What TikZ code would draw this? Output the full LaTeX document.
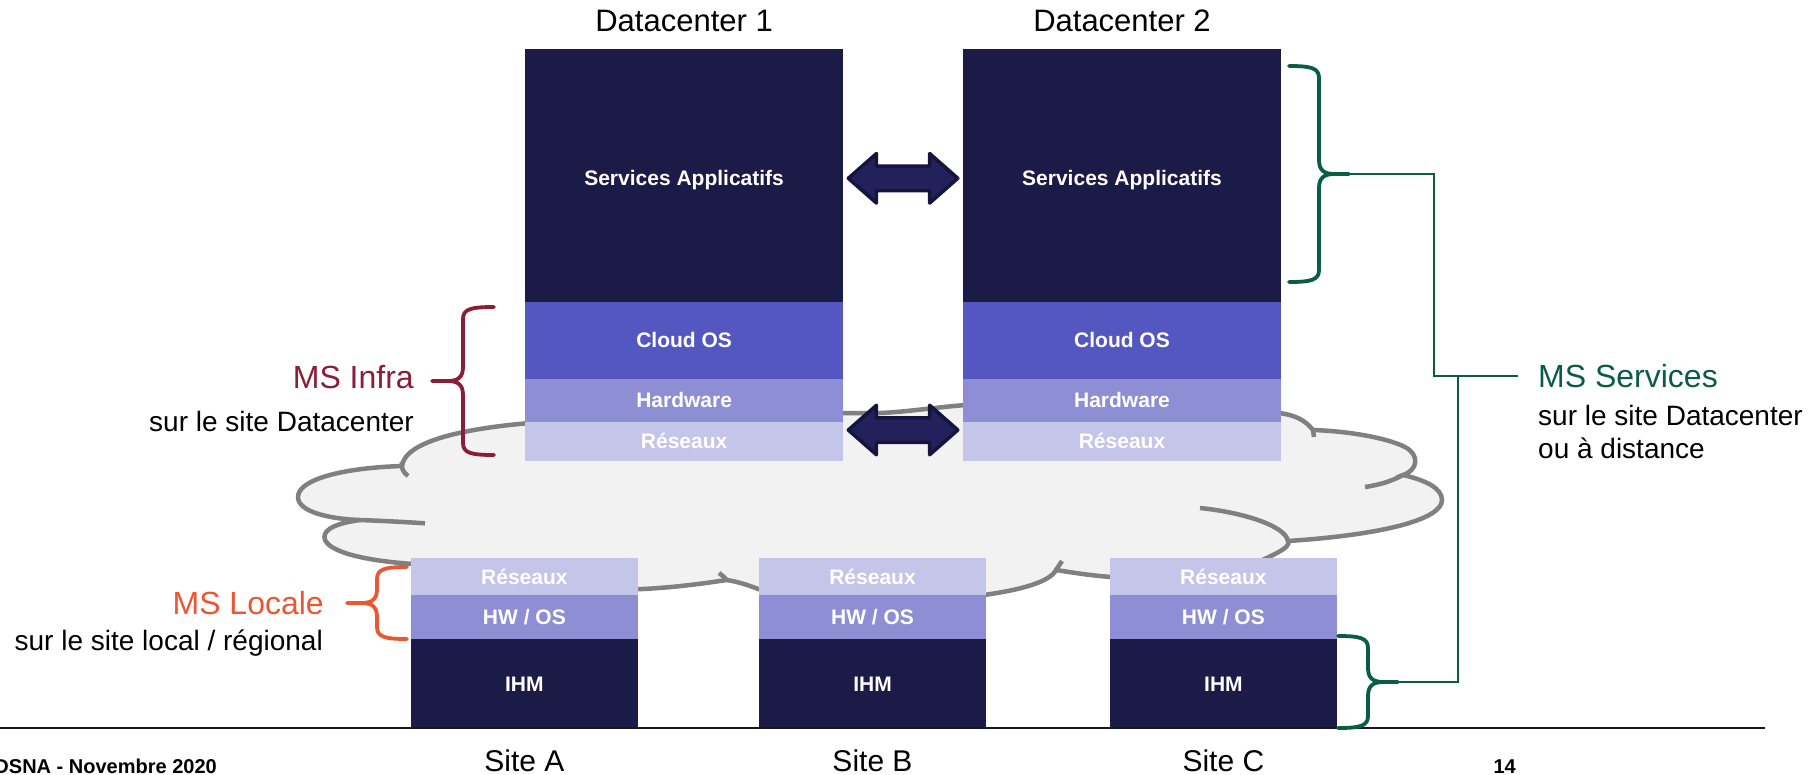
\documentclass[tikz,border=0pt]{standalone}
\usepackage{fontspec}
\setmainfont{Liberation Sans}
\usetikzlibrary{calc}
\definecolor{navy}{HTML}{1C1A46}
\definecolor{cloudos}{HTML}{5557C1}
\definecolor{hwcol}{HTML}{8D8ED4}
\definecolor{rescol}{HTML}{C5C5E9}
\definecolor{arrfill}{HTML}{23215C}
\definecolor{arredge}{HTML}{15143D}
\definecolor{cloudfill}{HTML}{F2F2F2}
\definecolor{cloudline}{HTML}{808080}
\definecolor{bur}{HTML}{8C1D36}
\definecolor{orng}{HTML}{EB5633}
\definecolor{grn}{HTML}{0A5C44}
\newcommand\BraceDraw[8]{%
\draw[#1] (#3,#6) .. controls ({#4+8*(#2)},#6) and (#4,{#6+2}) .. (#4,{#6+12}) -- (#4,{#8-14}) .. controls (#4,{#8-4}) and ({#4-5*(#2)},#8) .. ({#4-15*(#2)},#8) -- (#5,#8)
 (#3,#7) .. controls ({#4+8*(#2)},#7) and (#4,{#7-2}) .. (#4,{#7-12}) -- (#4,{#8+14}) .. controls (#4,{#8+4}) and ({#4-5*(#2)},#8) .. ({#4-15*(#2)},#8);}
\newcommand\DblArrow[1]{%
\draw[dblarr, shift={(#1)}] (-54.75,0) -- (-26.6,-24.75) -- (-26.6,-12.25) -- (26.6,-12.25) -- (26.6,-24.75) -- (54.75,0) -- (26.6,24.75) -- (26.6,12.25) -- (-26.6,12.25) -- (-26.6,24.75) -- cycle;}
\begin{document}
\begin{tikzpicture}[x=1pt,y=-1pt,
  layer/.style={rectangle, inner sep=0pt, outer sep=0pt, text=white,
    font=\fontsize{21}{21}\selectfont\bfseries, text height=15pt, text depth=0pt},
  dcbox/.style={layer, minimum width=317.5pt},
  sitebox/.style={layer, minimum width=227pt},
  dblarr/.style={fill=arrfill, draw=arredge, line width=3.5pt, line join=round},
  cloudstroke/.style={draw=cloudline, line width=4.5pt},
  bracestyle/.style={line width=3.8pt, line cap=round, line join=round},
  gline/.style={draw=grn, line width=1.6pt},
  title/.style={font=\fontsize{31}{31}\selectfont, anchor=base, inner sep=0pt},
  bigl/.style={font=\fontsize{32}{32}\selectfont, inner sep=0pt},
  smalll/.style={font=\fontsize{28}{28}\selectfont, inner sep=0pt},
  foot/.style={font=\fontsize{20}{20}\selectfont\bfseries, inner sep=0pt, anchor=base east}]
\useasboundingbox (0,0) rectangle (1815,774);
% cloud
\path[fill=cloudfill, cloudstroke] (530,423) .. controls (470,428) and (405,440) .. (402,466)
 .. controls (340,468) and (298,480) .. (298,497)
 .. controls (298,512) and (330,519) .. (360,520)
 .. controls (330,524) and (322,532) .. (325,540)
 .. controls (332,555) and (380,562) .. (414,564)
 -- (636,589.3)
 .. controls (670,588) and (700,584) .. (726.7,580)
 .. controls (740,582) and (750,586) .. (761,590)
 -- (984,595)
 .. controls (1020,590) and (1050,582) .. (1056,570)
 .. controls (1075,573) and (1095,576) .. (1112,577)
 -- (1250,566) .. controls (1270,556) and (1292,548) .. (1288,541)
 .. controls (1380,535) and (1442,520) .. (1442,500)
 .. controls (1442,488) and (1425,480) .. (1403,475)
 .. controls (1418,470) and (1420,455) .. (1405,447)
 .. controls (1385,437) and (1345,431) .. (1313,430)
 .. controls (1305,420) and (1295,415) .. (1279,413)
 -- (965,405)
 .. controls (930,408) and (905,412) .. (880,413)
 -- (840,413) -- cycle;
\draw[cloudstroke] (402,462) .. controls (401,468) and (403,472) .. (408,476);
\draw[cloudstroke] (360,520) .. controls (385,521) and (405,522) .. (425,523.3);
\draw[cloudstroke] (726.7,580) .. controls (724,577) and (722,575) .. (719,573);
\draw[cloudstroke] (1056,570) .. controls (1058,567) and (1060,564) .. (1062,561);
\draw[cloudstroke] (1288,541) .. controls (1285,525) and (1240,512) .. (1200,508);
\draw[cloudstroke] (1403,475) .. controls (1390,482) and (1378,485) .. (1365,487);
\draw[cloudstroke] (1313,430) -- (1314,437);
% datacenters
\node[dcbox, fill=navy, minimum height=253.4pt, text height=21pt] (svc1) at (684.1,175.3) {Services Applicatifs};
\node[dcbox, fill=cloudos, minimum height=76.5pt] (cos1) at (684.1,340.25) {Cloud OS};
\node[dcbox, fill=hwcol, minimum height=43.2pt] (hw1) at (684.1,400.1) {Hardware};
\node[dcbox, fill=rescol, minimum height=39pt] (res1) at (684.1,441.2) {Réseaux};
\node[dcbox, fill=navy, minimum height=253.4pt, text height=21pt] (svc2) at (1122,175.3) {Services Applicatifs};
\node[dcbox, fill=cloudos, minimum height=76.5pt] (cos2) at (1122,340.25) {Cloud OS};
\node[dcbox, fill=hwcol, minimum height=43.2pt] (hw2) at (1122,400.1) {Hardware};
\node[dcbox, fill=rescol, minimum height=39pt] (res2) at (1122,441.2) {Réseaux};
\node[title] (dc1t) at (684.1,31.5) {Datacenter 1};
\node[title] (dc2t) at (1122,31.5) {Datacenter 2};
% arrows between the datacenters
\coordinate (a1c) at ($(svc1.east)!0.5!(svc2.west)+(0,3)$);
\coordinate (a2c) at ($(hw1.south east)!0.5!(hw2.south west)+(0,8.3)$);
\DblArrow{a1c}
\DblArrow{a2c}
% sites
\foreach \n/\x/\s in {A/524.4/Site A, B/872.5/Site B, C/1223.4/Site C}{
  \node[sitebox, fill=rescol, minimum height=36.7pt] (sres\n) at (\x,576.65) {Réseaux};
  \node[sitebox, fill=hwcol, minimum height=44pt] (shw\n) at (\x,617) {HW / OS};
  \node[sitebox, fill=navy, minimum height=89pt] (sihm\n) at (\x,683.5) {IHM};
  \node[title, font=\fontsize{30}{30}\selectfont] (slab\n) at (\x,771) {\s};
}
% baseline
\draw[line width=1.8pt, draw=black!90] (0,728) -- (1765,728);
% braces
\BraceDraw{bracestyle, draw=bur}{1}{494}{463}{432}{307}{455}{381}
\BraceDraw{bracestyle, draw=orng}{1}{407}{377}{347}{567}{639}{603}
\BraceDraw{bracestyle, draw=grn}{-1}{1289}{1319}{1349}{66}{282}{174}
\BraceDraw{bracestyle, draw=grn}{-1}{1338}{1368}{1398}{636}{728}{682}
% green connectors
\coordinate (gtop) at (1349,174);
\coordinate (gbot) at (1398,682);
\coordinate (gtxt) at (1518,376);
\draw[gline] (gtop) -- (1434,174) -- (1434,376) -- (gtxt);
\draw[gline] (1458,376) -- (1458,682) -- (gbot);
% labels
\node[bigl, text=bur, anchor=base east] (msinfra) at (414,388) {MS Infra};
\node[smalll, anchor=base east] (infrasub) at (414,431.7) {sur le site Datacenter};
\node[bigl, text=orng, anchor=base east] (mslocale) at (324,614) {MS Locale};
\node[smalll, anchor=base east] (localesub) at (323,650) {sur le site local / régional};
\node[bigl, text=grn, anchor=base west] (msserv) at (1538,387) {MS Services};
\node[smalll, anchor=base west] (servsub1) at (1538,425) {sur le site Datacenter};
\node[smalll, anchor=base west] (servsub2) at (1538,458.5) {ou à distance};
\node[foot] (footl) at (217,773) {DSNA - Novembre 2020};
\node[foot] (footr) at (1516,773) {14};
\end{tikzpicture}
\end{document}
